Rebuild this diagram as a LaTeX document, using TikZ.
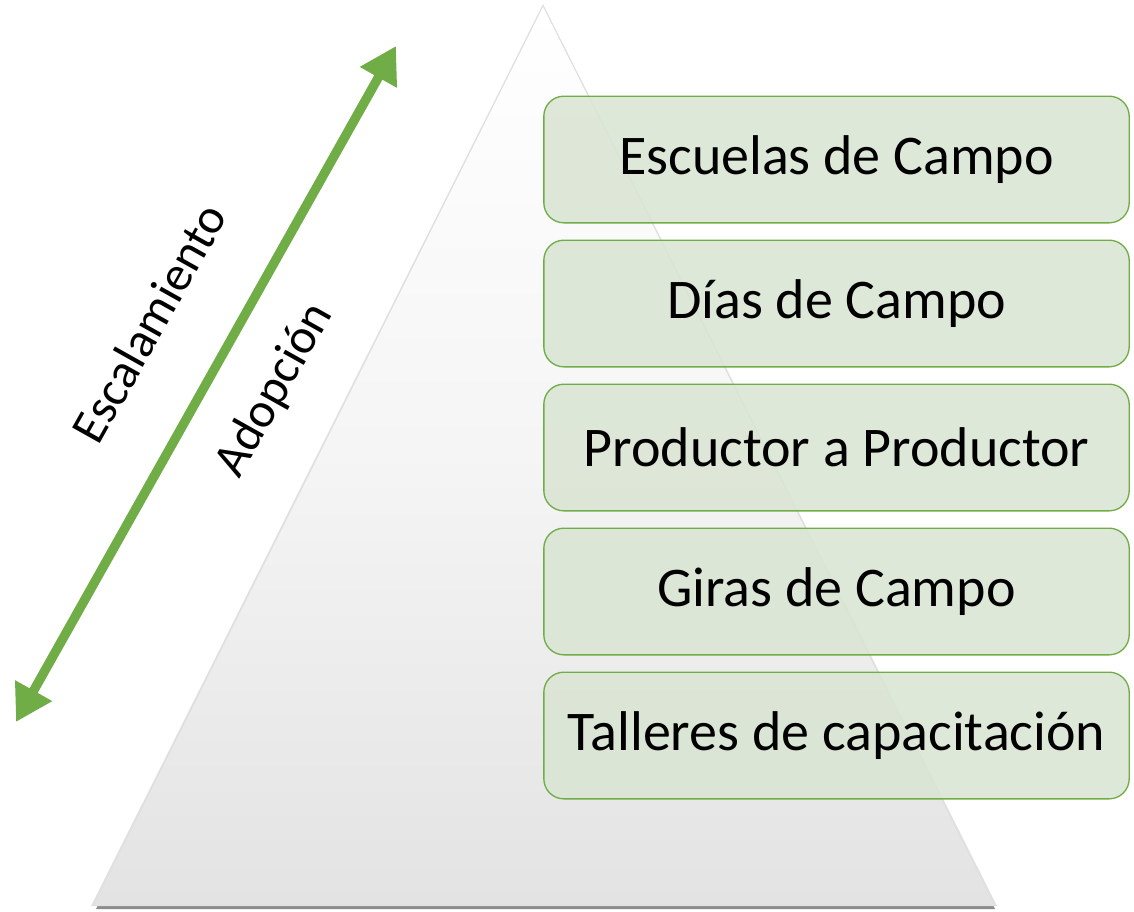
\documentclass[tikz,border=0pt]{standalone}
\usepackage{fontspec}
\setmainfont{Carlito}
\usetikzlibrary{arrows.meta}
\definecolor{boxfill}{HTML}{DAE5D3}
\definecolor{boxline}{HTML}{70AD47}
\definecolor{arrowgreen}{HTML}{70AD47}
\tikzset{
  levelbox/.style={draw=boxline, line width=1pt, fill=boxfill, fill opacity=0.88, text opacity=1,
    rounded corners=15pt, minimum width=439pt, minimum height=95pt, inner sep=0pt,
    font=\fontsize{42}{46}\selectfont, text=black},
  sidelabel/.style={font=\fontsize{37}{40}\selectfont, text=black, rotate=60.7},
  bigarrow/.style={arrowgreen, line width=7pt, {Triangle[width=30pt,length=27pt]}-{Triangle[width=30pt,length=27pt]}}
}
\begin{document}
\begin{tikzpicture}[x=0.75pt,y=-0.75pt]
\useasboundingbox (0,0) rectangle (1134,911);
% triangle shadow
\fill[black!45] (96,909) -- (543,10) -- (995,909) -- cycle;
\fill[black!12] (91,906) -- (543,4) -- (997,906) -- cycle;
\coordinate (apex) at (543,7);
\coordinate (bl) at (94,905);
\coordinate (br) at (994,905);
\shade[top color=white, bottom color=black!11, middle color=black!4] (bl) -- (apex) -- (br) -- cycle;
% arrow
\coordinate (lowend) at (16,722);
\coordinate (highend) at (396,46);
\draw[bigarrow] (lowend) -- (highend);
\node[sidelabel] (esc) at (149,323) {Escalamiento};
\node[sidelabel] (adop) at (275,390) {Adopción};
% boxes
\node[levelbox] (b1) at (836.5,159.5) {Escuelas de Campo};
\node[levelbox] (b2) at (836.5,303.5) {Días de Campo};
\node[levelbox] (b3) at (836.5,447.5) {Productor a Productor};
\node[levelbox] (b4) at (836.5,591.5) {Giras de Campo};
\node[levelbox] (b5) at (836.5,735.5) {Talleres de capacitación};
\end{tikzpicture}
\end{document}
